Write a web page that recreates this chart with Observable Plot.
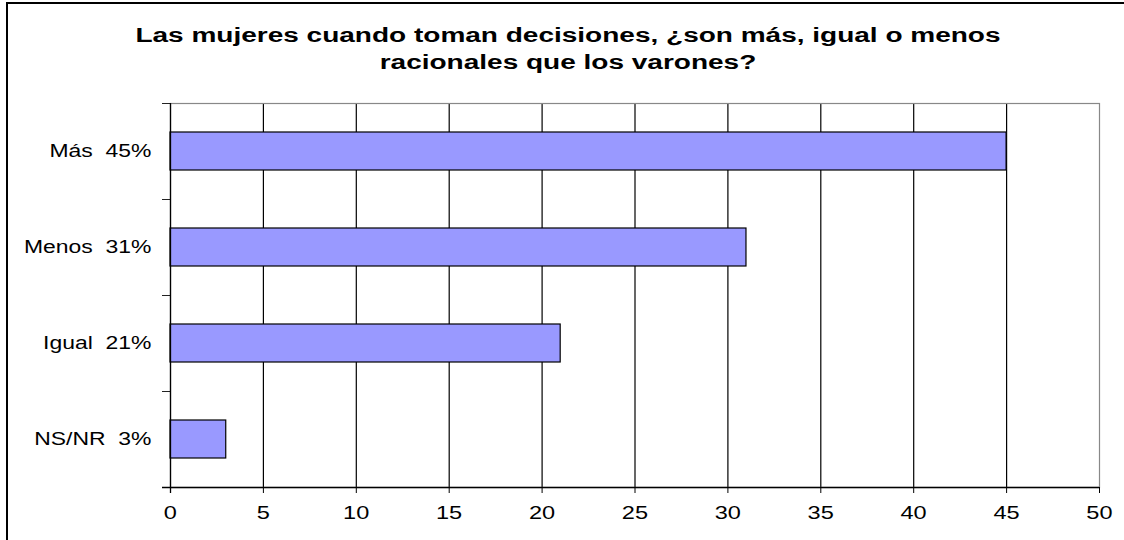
<!DOCTYPE html>
<html>
<head>
<meta charset="utf-8">
<script src="https://cdn.jsdelivr.net/npm/d3@7"></script>
<script src="https://cdn.jsdelivr.net/npm/@observablehq/plot@0.6"></script>
<style>
  html, body { margin: 0; padding: 0; background: #fff; overflow: hidden; }
  #wrap { position: relative; width: 1124px; height: 540px; overflow: hidden; background: #fff; }
  #border { position: absolute; left: 6px; top: 2px; width: 1300px; height: 800px; border-top: 2px solid #000; border-left: 2px solid #000; pointer-events: none; }
  #title { position: absolute; left: 0; top: 22px; width: 1136px; text-align: center;
    font-family: "Liberation Sans", Arial, sans-serif; font-weight: bold; font-size: 20px; line-height: 27px; color: #000;
    transform: scaleX(1.4); transform-origin: 568px 0; }
  #chart { position: absolute; left: 0; top: 0; }
  #chart svg text { white-space: pre; }
</style>
</head>
<body>
<div id="wrap">
  <div id="chart"></div>
  <div id="border"></div>
  <div id="title">Las mujeres cuando toman decisiones, ¿son más, igual o menos<br>racionales que los varones?</div>
</div>
<script>
const categories = ["Más", "Menos", "Igual", "NS/NR"];
const values = [45, 31, 21, 3];
const xTicks = [0, 5, 10, 15, 20, 25, 30, 35, 40, 45, 50];

const labels = categories.map((c, i) => `${c}\u00a0 ${values[i]}%`);
const data = categories.map((c, i) => ({label: labels[i], value: values[i]}));

const W = 1124, H = 540;

const axesAndTicks = (index, scales, vals, dims) => {
  const {x} = scales;
  const g = d3.create("svg:g");
  const x0 = x(0), x1 = x(50);
  const top = dims.marginTop, bottom = dims.height - dims.marginBottom;
  const n = labels.length;
  const step = (bottom - top) / n;
  for (let i = 0; i <= n; i++) {
    const yy = Math.round(top + i * step) + 0.5;
    g.append("line").attr("x1", x0 - 8).attr("x2", x0).attr("y1", yy).attr("y2", yy)
      .attr("stroke", "#222").attr("stroke-width", 1);
  }
  g.append("line").attr("x1", x0 + 0.5).attr("x2", x0 + 0.5).attr("y1", top).attr("y2", bottom + 6)
    .attr("stroke", "#000").attr("stroke-width", 1.3);
  g.append("line").attr("x1", x0 - 8).attr("x2", x1).attr("y1", bottom + 0.5).attr("y2", bottom + 0.5)
    .attr("stroke", "#000").attr("stroke-width", 1.3);
  return g.node();
};

const chart = Plot.plot({
  width: W,
  height: H,
  marginLeft: 170,
  marginRight: 25,
  marginTop: 103,
  marginBottom: 53,
  style: {fontFamily: "'Liberation Sans', Arial, sans-serif", background: "transparent", overflow: "visible"},
  x: {domain: [0, 50], ticks: xTicks},
  y: {domain: labels, paddingInner: 0.6, paddingOuter: 0.3},
  marks: [
    Plot.ruleX(xTicks.filter(v => v > 0 && v < 50), {stroke: "#000", strokeWidth: 1.2, strokeOpacity: 1}),
    Plot.frame({stroke: "#888", strokeWidth: 1.2}),
    Plot.barX(data, {x: "value", y: "label", fill: "#9999FF", stroke: "#000", strokeWidth: 1.2}),
    Plot.axisX({ticks: xTicks, tickSize: 6, tickPadding: 12, fontSize: 19, label: null, stroke: "#000", fill: "#000", tickFormat: d => String(d)}),
    Plot.axisY({tickSize: 0, tickPadding: 25, fontSize: 18.5, label: null, fill: "#000"}),
    axesAndTicks
  ]
});
document.getElementById("chart").appendChild(chart);

// widen tick label glyphs horizontally about their anchor, as in the reference
const svgRect = chart.getBoundingClientRect();
d3.select(chart).selectAll("text").each(function() {
  const r = this.getBoundingClientRect();
  const anchor = getComputedStyle(this).textAnchor;
  const ax = (anchor === "end" ? r.right : anchor === "middle" ? (r.left + r.right) / 2 : r.left) - svgRect.left;
  const s = 1.24;
  const t = this.getAttribute("transform") || "";
  this.setAttribute("transform", `translate(${ax},0) scale(${s},1) translate(${-ax},0) ${t}`);
});
</script>
</body>
</html>
